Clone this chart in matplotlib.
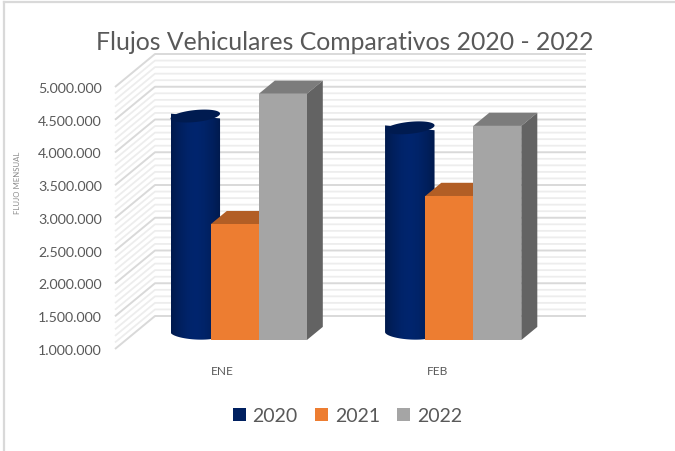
import numpy as np
import matplotlib
matplotlib.use("Agg")
import matplotlib.pyplot as plt
from matplotlib.patches import Polygon, Rectangle

# Data
months = ["ENE", "FEB"]
years = ["2020", "2021", "2022"]
flow_2020 = [4320000, 4140000]
flow_2021 = [2770000, 3200000]
flow_2022 = [4760000, 4270000]
ticks = [1000000, 1500000, 2000000, 2500000, 3000000, 3500000, 4000000, 4500000, 5000000]
minor_step = 100000

colors = {"2020": "#002060", "2021": "#ED7D31", "2022": "#A5A5A5"}
tops = {"2021": "#B25E25", "2022": "#7C7C7C"}
sides = {"2022": "#636363"}
text_color = "#595959"

plt.rcParams['font.family'] = ['Lato', 'DejaVu Sans']

W, H = 675, 452
dpi = 100

# pixel layout of the front plane of the chart
left_px, right_px = 115, 546
top_px, base_px = 88, 350
cat_px = 214.5
first_px = 222.5
val_per_px = (ticks[-1] - ticks[0]) / (base_px - top_px)
depth_x = 40 / cat_px
depth_y = 33 * val_per_px


def pt(x, v, d=0.0):
    # project a point (category, value) back into the chart depth
    return (x + d * depth_x, v + d * depth_y)


def px(n):
    return n / cat_px


fig = plt.figure(figsize=(W / dpi, H / dpi), dpi=dpi, facecolor="white")
ax = fig.add_axes([left_px / W, 1 - base_px / H, (right_px - left_px) / W, (base_px - top_px) / H])
ax.set_xlim((left_px - first_px) / cat_px, (right_px - first_px) / cat_px)
ax.set_ylim(ticks[0], ticks[-1])
ax.patch.set_alpha(0)
for s in ax.spines.values():
    s.set_visible(False)

x_left, x_right = ax.get_xlim()

# Grid on the wall, minor first so the major lines stay on top
for v in np.arange(ticks[0], ticks[-1] + 1, minor_step):
    major = v in ticks
    c = "#D9D9D9" if major else "#EDEDED"
    lw = 1.4 if major else 1.3
    z = 2 if major else 1
    a = pt(x_left, v)
    b = pt(x_left, v, 1)
    e = pt(x_right, v, 1)
    ax.plot([a[0], b[0], e[0]], [a[1], b[1], e[1]], color=c, lw=lw, zorder=z, clip_on=False,
            solid_capstyle="butt")

# Bars
bar_w = px(48)
cyl_w = px(49.5)
d0, d1 = 0.27, 0.67
offs = {"2020": px(-46), "2021": px(1.5), "2022": px(49.5)}
vals = {"2020": flow_2020, "2021": flow_2021, "2022": flow_2022}
grad = np.array([0.0, 0.35, 0.62, 0.72, 0.6, 0.35, 0.0])
x_grad = np.interp(np.linspace(0, 1, 120), np.linspace(0, 1, len(grad)), grad)
dark = np.array(matplotlib.colors.to_rgb("#001A4D"))
light = np.array(matplotlib.colors.to_rgb("#00256E"))

for i, m in enumerate(months):
    # cylinder
    v = vals["2020"][i]
    cx, vtop = pt(i + offs["2020"], v, 0.47)
    _, vbase = pt(i + offs["2020"], ticks[0], 0.47)
    xl = cx - cyl_w / 2
    xr = cx + cyl_w / 2
    ell_h = 12 * val_per_px
    t = np.linspace(0, np.pi, 40)
    tilt = 2.4 * val_per_px
    # body outline: bottom half arc and top half arc with a slight tilt
    xs = cx - np.cos(t) * cyl_w / 2
    low = vbase - np.sin(t) * ell_h / 2 + np.cos(t) * tilt * 0.6
    up = vtop + np.cos(t) * tilt
    body = Polygon(np.column_stack([np.r_[xs, xs[::-1]], np.r_[low, up[::-1]]]),
                   closed=True, fc="none", ec="none", zorder=3, clip_on=False)
    ax.add_patch(body)
    im = ax.imshow((dark + (light - dark) * (x_grad / x_grad.max())[:, None])[None, :, :],
                   extent=(xl, xr, vbase - ell_h, vtop + ell_h), aspect="auto", zorder=3,
                   clip_on=True, interpolation="bilinear")
    im.set_clip_path(body)
    th = np.linspace(0, 2 * np.pi, 80)
    ax.add_patch(Polygon(np.column_stack([cx + np.cos(th) * cyl_w / 2,
                                          vtop + np.sin(th) * ell_h / 2 + np.cos(th) * tilt]),
                         closed=True, fc="#001B50", ec="none", zorder=3.1, clip_on=False))

    # square bars
    for j, y in enumerate(years[1:]):
        v = vals[y][i]
        x0 = i + offs[y] - bar_w / 2
        x1 = x0 + bar_w
        front = [pt(x0, ticks[0], d0), pt(x1, ticks[0], d0), pt(x1, v, d0), pt(x0, v, d0)]
        top = [pt(x0, v, d0), pt(x1, v, d0), pt(x1, v, d1), pt(x0, v, d1)]
        z = 4 + j
        ax.add_patch(Polygon(top, closed=True, fc=tops[y], ec="none", zorder=z, clip_on=False))
        if y in sides:
            side = [pt(x1, ticks[0], d0), pt(x1, ticks[0], d1), pt(x1, v, d1), pt(x1, v, d0)]
            ax.add_patch(Polygon(side, closed=True, fc=sides[y], ec="none", zorder=z, clip_on=False))
        ax.add_patch(Polygon(front, closed=True, fc=colors[y], ec="none", zorder=z + 0.1, clip_on=False))

ax.set_xlim((left_px - first_px) / cat_px, (right_px - first_px) / cat_px)
ax.set_ylim(ticks[0], ticks[-1])

# Axes text
ax.set_yticks(ticks)
ax.set_yticklabels([f"{t:,}".replace(",", ".") for t in ticks], fontsize=10.2, color=text_color)
ax.set_xticks(range(len(months)))
ax.set_xticklabels(months, fontsize=8.6, color=text_color)
ax.tick_params(axis="both", length=0)
ax.tick_params(axis="y", pad=9.5)
ax.tick_params(axis="x", pad=11.5)

fig.text(17.5 / W, 1 - 183 / H, "FLUJO MENSUAL", rotation=90, fontsize=5.6, color="#8C8C8C",
         ha="center", va="center")
fig.text(345 / W, 1 - 42.5 / H, "Flujos Vehiculares Comparativos 2020 - 2022", fontsize=17.8,
         color=text_color, ha="center", va="center")

# Legend
handles = [Rectangle((0, 0), 1, 1, fc=colors[y], ec="none") for y in years]
fig.legend(handles, years, loc="center", bbox_to_anchor=(347.5 / W, 1 - 417 / H), ncol=3, frameon=False,
           fontsize=14, labelcolor=text_color, handlelength=0.67, handleheight=0.67,
           handletextpad=0.36, columnspacing=0.88)

# Frame left over from the screenshot
fig.add_artist(plt.Line2D([4 / W, 4 / W], [0, 1 - 2.5 / H], color="#D9D9D9", lw=1.6))
fig.add_artist(plt.Line2D([4 / W, 1], [1 - 2.5 / H, 1 - 2.5 / H], color="#D9D9D9", lw=1.6))

fig.savefig("out.png", dpi=dpi)
